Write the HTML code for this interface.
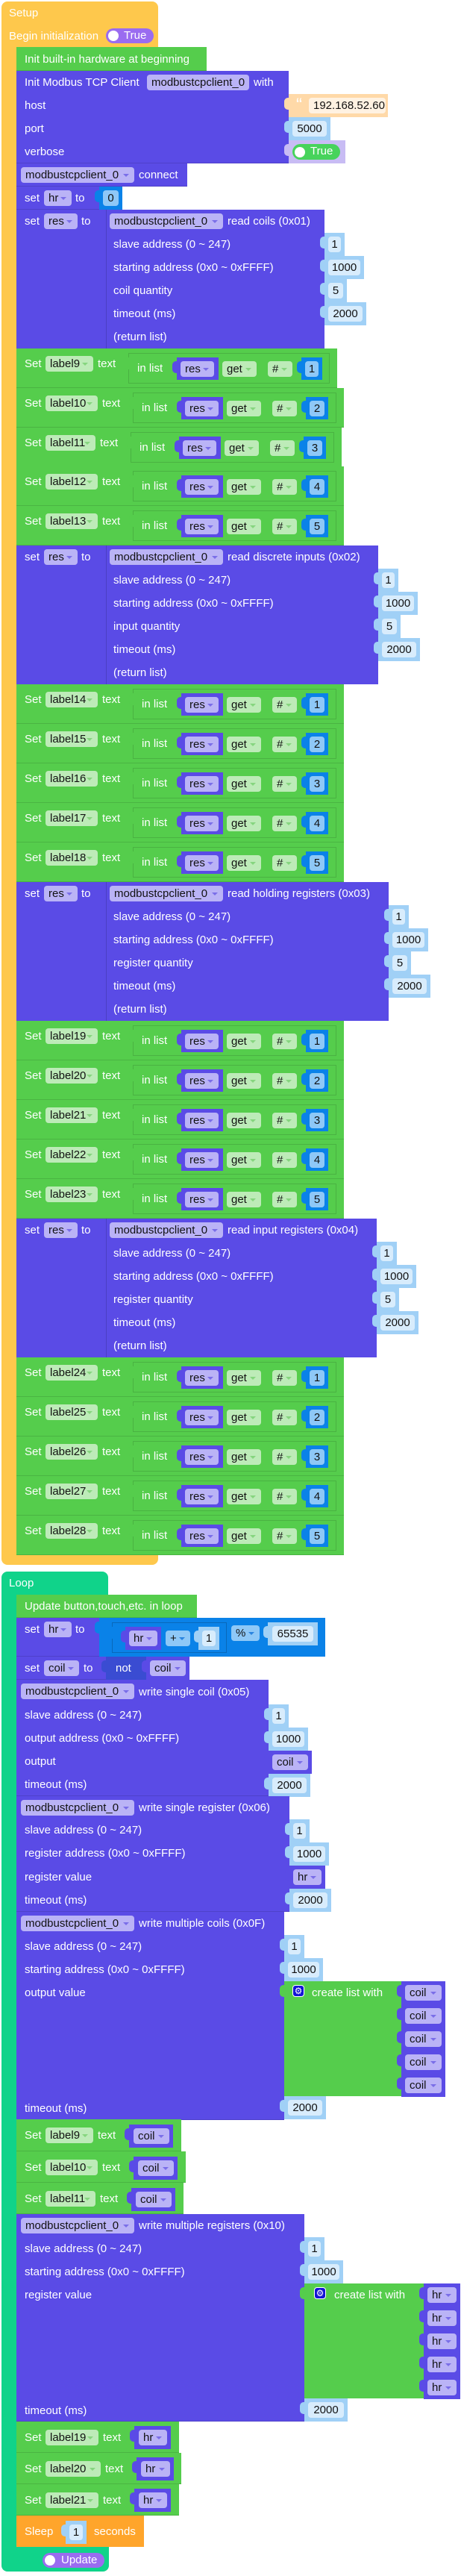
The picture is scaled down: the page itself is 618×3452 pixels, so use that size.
<!DOCTYPE html>
<html><head><meta charset="utf-8"><style>
*{margin:0;padding:0}
html,body{width:618px;height:3452px;background:#fff;overflow:hidden}
body{position:relative;font-family:"Liberation Sans",Arial,sans-serif}
.a{position:absolute;box-sizing:border-box}
.t{position:absolute;color:#fff;font-size:15px;line-height:20px;white-space:nowrap}
.f{position:absolute;box-sizing:border-box;height:21px;border-radius:4px;font-size:15px;line-height:21px;color:#111;padding-left:6px;white-space:nowrap}
.f i{position:absolute;right:7px;top:9px;width:0;height:0;border-left:4px solid transparent;border-right:4px solid transparent;border-top:4px solid #7a6ee8}
.c{padding-left:0;text-align:center}
.P{background:#5A4BE6}
.G{background:#55CD4C}
.Y{background:#FEC84C}
.T{background:#10D38A}
.O{background:#FFA52B}
.vb{background:#A0D0F6}
.db{background:#0A82E8}
.L{background:#BAB3F6}
.Lg{background:#BDEBB8}
.Lg i{border-top-color:#86d57f}
.Fb{background:#D8ECFC}
.Fd{background:#8EC8F7}
.Fd i{border-top-color:#2a84e0}
.v::before{content:"";position:absolute;left:-6px;top:5px;width:7px;height:16px;background:inherit;border-radius:5px 0 0 5px}
.vx{height:31px}
.vx .f{left:5px;right:5px;top:5px}
.sb{box-shadow:inset 0 -1px 0 rgba(0,0,0,.12)}
.in{border-left:1px solid rgba(0,0,0,.15)}
.lb{left:22px;height:53px;width:439px}
.lS{left:11px;top:11px}
.lF{left:39px;top:10px;width:70px}
.lT{left:115px;top:11px}
.lI{left:156px;top:6px;width:273px;height:41px;border:1px solid rgba(0,0,0,.13)}
.iT{left:11px;top:10px}
.iR{left:64px;top:5px;width:56px;height:30px}
.rf{left:5px;top:5px;width:45px}
.iG{left:125px;top:10px;width:46px}
.iH{left:186px;top:10px;width:33px}
.iN{left:231px;top:5px;width:30px;height:30px}
.nf{left:5px;top:5px;width:20px}
.gear{width:16px;height:16px;border-radius:4px;background:#1414D6;border:1px solid #fff;color:#fff;font-family:"DejaVu Sans",sans-serif;font-size:12px;line-height:14px;text-align:center}
</style></head><body>

<!-- ================= SETUP ================= -->
<div class="a Y" style="left:2px;top:2px;width:210px;height:62px;border-radius:8px 8px 0 0"></div>
<div class="a Y" style="left:2px;top:63px;width:20px;height:2025px"></div>
<div class="a Y" style="left:2px;top:2084px;width:210px;height:13px;border-radius:0 0 8px 8px"></div>
<div class="t" style="left:12px;top:8px">Setup</div>
<div class="t" style="left:12px;top:39px">Begin initialization</div>
<div class="a" style="left:142px;top:38px;width:64px;height:20px;border-radius:10px;background:#9A6CF0"></div>
<div class="a" style="left:145px;top:41px;width:14px;height:14px;border-radius:7px;background:#fff"></div>
<div class="t" style="left:166px;top:38px">True</div>

<div class="a G sb" style="left:22px;top:63px;width:255px;height:32px"></div>
<div class="t" style="left:33px;top:70px">Init built-in hardware at beginning</div>

<div class="a P sb" style="left:22px;top:95px;width:365px;height:124px"></div>
<div class="t" style="left:33px;top:101px">Init Modbus TCP Client</div>
<div class="f L" style="left:197px;top:100px;width:137px">modbustcpclient_0</div>
<div class="t" style="left:340px;top:101px">with</div>
<div class="t" style="left:33px;top:132px">host</div>
<div class="t" style="left:33px;top:163px">port</div>
<div class="t" style="left:33px;top:194px">verbose</div>
<div class="a v" style="left:387px;top:126px;width:133px;height:31px;background:#FFD9A8"><div class="t" style="left:10px;top:2px;font-size:24px;line-height:26px">“</div><div class="f" style="left:27px;top:5px;width:103px;background:#FFF2E2">192.168.52.60</div></div>
<div class="a vb v vx" style="left:387px;top:157px;width:56px"><div class="f Fb c">5000</div></div>
<div class="a v" style="left:387px;top:188px;width:76px;height:31px;background:#C8BCF4"><div class="a" style="left:5px;top:5px;width:64px;height:21px;border-radius:11px;background:#47D35B"></div><div class="a" style="left:8px;top:9px;width:14px;height:14px;border-radius:7px;background:#fff"></div><div class="t" style="left:29px;top:5px">True</div></div>

<div class="a P sb" style="left:22px;top:219px;width:229px;height:31px"></div>
<div class="f L" style="left:28px;top:224px;width:152px">modbustcpclient_0<i></i></div>
<div class="t" style="left:186px;top:225px">connect</div>

<div class="a P sb" style="left:22px;top:250px;width:112px;height:31px"></div>
<div class="t" style="left:33px;top:256px">set</div>
<div class="f L" style="left:59px;top:255px;width:37px">hr<i></i></div>
<div class="t" style="left:101px;top:256px">to</div>
<div class="a db v vx" style="left:133px;top:250px;width:31px"><div class="f Fd c">0</div></div>

<!-- read coils -->
<div class="a P" style="left:22px;top:281px;width:121px;height:186px"></div>
<div class="t" style="left:33px;top:287px">set</div>
<div class="f L" style="left:59px;top:286px;width:45px">res<i></i></div>
<div class="t" style="left:109px;top:287px">to</div>
<div class="a P in" style="left:142px;top:281px;width:293px;height:186px"></div>
<div class="f L" style="left:147px;top:286px;width:152px">modbustcpclient_0<i></i></div>
<div class="t" style="left:305px;top:287px">read coils (0x01)</div>
<div class="t" style="left:152px;top:318px">slave address (0 ~ 247)</div>
<div class="t" style="left:152px;top:349px">starting address (0x0 ~ 0xFFFF)</div>
<div class="t" style="left:152px;top:380px">coil quantity</div>
<div class="t" style="left:152px;top:411px">timeout (ms)</div>
<div class="t" style="left:152px;top:442px">(return list)</div>
<div class="a vb v vx" style="left:435px;top:312px;width:27px"><div class="f Fb c">1</div></div>
<div class="a vb v vx" style="left:435px;top:343px;width:53px"><div class="f Fb c">1000</div></div>
<div class="a vb v vx" style="left:435px;top:374px;width:30px"><div class="f Fb c">5</div></div>
<div class="a vb v vx" style="left:435px;top:405px;width:56px"><div class="f Fb c">2000</div></div>

<!-- labels 9-13 -->
<div class="a G sb lb" style="top:467px;width:430px"><div class="t lS">Set</div><div class="f Lg lF" style="width:64px">label9<i></i></div><div class="t lT" style="left:109px">text</div><div class="a G v lI" style="left:150px;width:270px"><div class="t iT">in list</div><div class="a P v iR"><div class="f L rf">res<i></i></div></div><div class="f Lg iG">get<i></i></div><div class="f Lg iH">#<i></i></div><div class="a db v iN" style="width:28px"><div class="f Fd c nf" style="width:18px">1</div></div></div></div>
<div class="a G sb lb" style="top:520px"><div class="t lS">Set</div><div class="f Lg lF">label10<i></i></div><div class="t lT">text</div><div class="a G v lI"><div class="t iT">in list</div><div class="a P v iR"><div class="f L rf">res<i></i></div></div><div class="f Lg iG">get<i></i></div><div class="f Lg iH">#<i></i></div><div class="a db v iN"><div class="f Fd c nf">2</div></div></div></div>
<div class="a G sb lb" style="top:573px;width:436px"><div class="t lS">Set</div><div class="f Lg lF" style="width:67px">label11<i></i></div><div class="t lT" style="left:112px">text</div><div class="a G v lI" style="left:153px"><div class="t iT">in list</div><div class="a P v iR"><div class="f L rf">res<i></i></div></div><div class="f Lg iG">get<i></i></div><div class="f Lg iH">#<i></i></div><div class="a db v iN"><div class="f Fd c nf">3</div></div></div></div>
<div class="a G sb lb" style="top:625px"><div class="t lS">Set</div><div class="f Lg lF">label12<i></i></div><div class="t lT">text</div><div class="a G v lI"><div class="t iT">in list</div><div class="a P v iR"><div class="f L rf">res<i></i></div></div><div class="f Lg iG">get<i></i></div><div class="f Lg iH">#<i></i></div><div class="a db v iN"><div class="f Fd c nf">4</div></div></div></div>
<div class="a G sb lb" style="top:678px"><div class="t lS">Set</div><div class="f Lg lF">label13<i></i></div><div class="t lT">text</div><div class="a G v lI"><div class="t iT">in list</div><div class="a P v iR"><div class="f L rf">res<i></i></div></div><div class="f Lg iG">get<i></i></div><div class="f Lg iH">#<i></i></div><div class="a db v iN"><div class="f Fd c nf">5</div></div></div></div>

<!-- read discrete inputs -->
<div class="a P" style="left:22px;top:731px;width:121px;height:186px"></div>
<div class="t" style="left:33px;top:737px">set</div>
<div class="f L" style="left:59px;top:736px;width:45px">res<i></i></div>
<div class="t" style="left:109px;top:737px">to</div>
<div class="a P in" style="left:142px;top:731px;width:365px;height:186px"></div>
<div class="f L" style="left:147px;top:736px;width:152px">modbustcpclient_0<i></i></div>
<div class="t" style="left:305px;top:737px">read discrete inputs (0x02)</div>
<div class="t" style="left:152px;top:768px">slave address (0 ~ 247)</div>
<div class="t" style="left:152px;top:799px">starting address (0x0 ~ 0xFFFF)</div>
<div class="t" style="left:152px;top:830px">input quantity</div>
<div class="t" style="left:152px;top:861px">timeout (ms)</div>
<div class="t" style="left:152px;top:892px">(return list)</div>
<div class="a vb v vx" style="left:507px;top:762px;width:27px"><div class="f Fb c">1</div></div>
<div class="a vb v vx" style="left:507px;top:793px;width:53px"><div class="f Fb c">1000</div></div>
<div class="a vb v vx" style="left:507px;top:824px;width:30px"><div class="f Fb c">5</div></div>
<div class="a vb v vx" style="left:507px;top:855px;width:56px"><div class="f Fb c">2000</div></div>

<!-- labels 14-18 -->
<div class="a G sb lb" style="top:917px"><div class="t lS">Set</div><div class="f Lg lF">label14<i></i></div><div class="t lT">text</div><div class="a G v lI"><div class="t iT">in list</div><div class="a P v iR"><div class="f L rf">res<i></i></div></div><div class="f Lg iG">get<i></i></div><div class="f Lg iH">#<i></i></div><div class="a db v iN"><div class="f Fd c nf">1</div></div></div></div>
<div class="a G sb lb" style="top:970px"><div class="t lS">Set</div><div class="f Lg lF">label15<i></i></div><div class="t lT">text</div><div class="a G v lI"><div class="t iT">in list</div><div class="a P v iR"><div class="f L rf">res<i></i></div></div><div class="f Lg iG">get<i></i></div><div class="f Lg iH">#<i></i></div><div class="a db v iN"><div class="f Fd c nf">2</div></div></div></div>
<div class="a G sb lb" style="top:1023px"><div class="t lS">Set</div><div class="f Lg lF">label16<i></i></div><div class="t lT">text</div><div class="a G v lI"><div class="t iT">in list</div><div class="a P v iR"><div class="f L rf">res<i></i></div></div><div class="f Lg iG">get<i></i></div><div class="f Lg iH">#<i></i></div><div class="a db v iN"><div class="f Fd c nf">3</div></div></div></div>
<div class="a G sb lb" style="top:1076px"><div class="t lS">Set</div><div class="f Lg lF">label17<i></i></div><div class="t lT">text</div><div class="a G v lI"><div class="t iT">in list</div><div class="a P v iR"><div class="f L rf">res<i></i></div></div><div class="f Lg iG">get<i></i></div><div class="f Lg iH">#<i></i></div><div class="a db v iN"><div class="f Fd c nf">4</div></div></div></div>
<div class="a G sb lb" style="top:1129px"><div class="t lS">Set</div><div class="f Lg lF">label18<i></i></div><div class="t lT">text</div><div class="a G v lI"><div class="t iT">in list</div><div class="a P v iR"><div class="f L rf">res<i></i></div></div><div class="f Lg iG">get<i></i></div><div class="f Lg iH">#<i></i></div><div class="a db v iN"><div class="f Fd c nf">5</div></div></div></div>

<!-- read holding registers -->
<div class="a P" style="left:22px;top:1182px;width:121px;height:186px"></div>
<div class="t" style="left:33px;top:1188px">set</div>
<div class="f L" style="left:59px;top:1187px;width:45px">res<i></i></div>
<div class="t" style="left:109px;top:1188px">to</div>
<div class="a P in" style="left:142px;top:1182px;width:379px;height:186px"></div>
<div class="f L" style="left:147px;top:1187px;width:152px">modbustcpclient_0<i></i></div>
<div class="t" style="left:305px;top:1188px">read holding registers (0x03)</div>
<div class="t" style="left:152px;top:1219px">slave address (0 ~ 247)</div>
<div class="t" style="left:152px;top:1250px">starting address (0x0 ~ 0xFFFF)</div>
<div class="t" style="left:152px;top:1281px">register quantity</div>
<div class="t" style="left:152px;top:1312px">timeout (ms)</div>
<div class="t" style="left:152px;top:1343px">(return list)</div>
<div class="a vb v vx" style="left:521px;top:1213px;width:27px"><div class="f Fb c">1</div></div>
<div class="a vb v vx" style="left:521px;top:1244px;width:53px"><div class="f Fb c">1000</div></div>
<div class="a vb v vx" style="left:521px;top:1275px;width:30px"><div class="f Fb c">5</div></div>
<div class="a vb v vx" style="left:521px;top:1306px;width:56px"><div class="f Fb c">2000</div></div>

<!-- labels 19-23 -->
<div class="a G sb lb" style="top:1368px"><div class="t lS">Set</div><div class="f Lg lF">label19<i></i></div><div class="t lT">text</div><div class="a G v lI"><div class="t iT">in list</div><div class="a P v iR"><div class="f L rf">res<i></i></div></div><div class="f Lg iG">get<i></i></div><div class="f Lg iH">#<i></i></div><div class="a db v iN"><div class="f Fd c nf">1</div></div></div></div>
<div class="a G sb lb" style="top:1421px"><div class="t lS">Set</div><div class="f Lg lF">label20<i></i></div><div class="t lT">text</div><div class="a G v lI"><div class="t iT">in list</div><div class="a P v iR"><div class="f L rf">res<i></i></div></div><div class="f Lg iG">get<i></i></div><div class="f Lg iH">#<i></i></div><div class="a db v iN"><div class="f Fd c nf">2</div></div></div></div>
<div class="a G sb lb" style="top:1474px"><div class="t lS">Set</div><div class="f Lg lF">label21<i></i></div><div class="t lT">text</div><div class="a G v lI"><div class="t iT">in list</div><div class="a P v iR"><div class="f L rf">res<i></i></div></div><div class="f Lg iG">get<i></i></div><div class="f Lg iH">#<i></i></div><div class="a db v iN"><div class="f Fd c nf">3</div></div></div></div>
<div class="a G sb lb" style="top:1527px"><div class="t lS">Set</div><div class="f Lg lF">label22<i></i></div><div class="t lT">text</div><div class="a G v lI"><div class="t iT">in list</div><div class="a P v iR"><div class="f L rf">res<i></i></div></div><div class="f Lg iG">get<i></i></div><div class="f Lg iH">#<i></i></div><div class="a db v iN"><div class="f Fd c nf">4</div></div></div></div>
<div class="a G sb lb" style="top:1580px"><div class="t lS">Set</div><div class="f Lg lF">label23<i></i></div><div class="t lT">text</div><div class="a G v lI"><div class="t iT">in list</div><div class="a P v iR"><div class="f L rf">res<i></i></div></div><div class="f Lg iG">get<i></i></div><div class="f Lg iH">#<i></i></div><div class="a db v iN"><div class="f Fd c nf">5</div></div></div></div>

<!-- read input registers -->
<div class="a P" style="left:22px;top:1633px;width:121px;height:186px"></div>
<div class="t" style="left:33px;top:1639px">set</div>
<div class="f L" style="left:59px;top:1638px;width:45px">res<i></i></div>
<div class="t" style="left:109px;top:1639px">to</div>
<div class="a P in" style="left:142px;top:1633px;width:363px;height:186px"></div>
<div class="f L" style="left:147px;top:1638px;width:152px">modbustcpclient_0<i></i></div>
<div class="t" style="left:305px;top:1639px">read input registers (0x04)</div>
<div class="t" style="left:152px;top:1670px">slave address (0 ~ 247)</div>
<div class="t" style="left:152px;top:1701px">starting address (0x0 ~ 0xFFFF)</div>
<div class="t" style="left:152px;top:1732px">register quantity</div>
<div class="t" style="left:152px;top:1763px">timeout (ms)</div>
<div class="t" style="left:152px;top:1794px">(return list)</div>
<div class="a vb v vx" style="left:505px;top:1664px;width:27px"><div class="f Fb c">1</div></div>
<div class="a vb v vx" style="left:505px;top:1695px;width:53px"><div class="f Fb c">1000</div></div>
<div class="a vb v vx" style="left:505px;top:1726px;width:30px"><div class="f Fb c">5</div></div>
<div class="a vb v vx" style="left:505px;top:1757px;width:56px"><div class="f Fb c">2000</div></div>

<!-- labels 24-28 -->
<div class="a G sb lb" style="top:1819px"><div class="t lS">Set</div><div class="f Lg lF">label24<i></i></div><div class="t lT">text</div><div class="a G v lI"><div class="t iT">in list</div><div class="a P v iR"><div class="f L rf">res<i></i></div></div><div class="f Lg iG">get<i></i></div><div class="f Lg iH">#<i></i></div><div class="a db v iN"><div class="f Fd c nf">1</div></div></div></div>
<div class="a G sb lb" style="top:1872px"><div class="t lS">Set</div><div class="f Lg lF">label25<i></i></div><div class="t lT">text</div><div class="a G v lI"><div class="t iT">in list</div><div class="a P v iR"><div class="f L rf">res<i></i></div></div><div class="f Lg iG">get<i></i></div><div class="f Lg iH">#<i></i></div><div class="a db v iN"><div class="f Fd c nf">2</div></div></div></div>
<div class="a G sb lb" style="top:1925px"><div class="t lS">Set</div><div class="f Lg lF">label26<i></i></div><div class="t lT">text</div><div class="a G v lI"><div class="t iT">in list</div><div class="a P v iR"><div class="f L rf">res<i></i></div></div><div class="f Lg iG">get<i></i></div><div class="f Lg iH">#<i></i></div><div class="a db v iN"><div class="f Fd c nf">3</div></div></div></div>
<div class="a G sb lb" style="top:1978px"><div class="t lS">Set</div><div class="f Lg lF">label27<i></i></div><div class="t lT">text</div><div class="a G v lI"><div class="t iT">in list</div><div class="a P v iR"><div class="f L rf">res<i></i></div></div><div class="f Lg iG">get<i></i></div><div class="f Lg iH">#<i></i></div><div class="a db v iN"><div class="f Fd c nf">4</div></div></div></div>
<div class="a G sb lb" style="top:2031px"><div class="t lS">Set</div><div class="f Lg lF">label28<i></i></div><div class="t lT">text</div><div class="a G v lI"><div class="t iT">in list</div><div class="a P v iR"><div class="f L rf">res<i></i></div></div><div class="f Lg iG">get<i></i></div><div class="f Lg iH">#<i></i></div><div class="a db v iN"><div class="f Fd c nf">5</div></div></div></div>

<!-- ================= LOOP ================= -->
<div class="a T" style="left:2px;top:2106px;width:143px;height:32px;border-radius:8px 8px 0 0"></div>
<div class="a T" style="left:2px;top:2137px;width:20px;height:1280px"></div>
<div class="a T" style="left:2px;top:3413px;width:144px;height:33px;border-radius:0 0 8px 8px"></div>
<div class="t" style="left:12px;top:2112px">Loop</div>
<div class="a" style="left:57px;top:3421px;width:83px;height:20px;border-radius:10px;background:#9A6CF0"></div>
<div class="a" style="left:60px;top:3424px;width:14px;height:14px;border-radius:7px;background:#fff"></div>
<div class="t" style="left:82px;top:3421px">Update</div>

<div class="a G sb" style="left:22px;top:2137px;width:242px;height:31px"></div>
<div class="t" style="left:33px;top:2143px">Update button,touch,etc. in loop</div>

<!-- set hr to (hr + 1) % 65535 -->
<div class="a P sb" style="left:22px;top:2168px;width:112px;height:52px"></div>
<div class="t" style="left:33px;top:2174px">set</div>
<div class="f L" style="left:59px;top:2173px;width:37px">hr<i></i></div>
<div class="t" style="left:101px;top:2174px">to</div>
<div class="a db v" style="left:133px;top:2168px;width:303px;height:52px"></div>
<div class="a db v" style="left:150px;top:2174px;width:154px;height:41px;border:1px solid rgba(0,0,0,.2)"></div>
<div class="a P v vx" style="left:168px;top:2180px;width:48px"><div class="f L">hr<i></i></div></div>
<div class="f Fd" style="left:222px;top:2185px;width:33px">+<i></i></div>
<div class="a vb v vx" style="left:266px;top:2180px;width:28px"><div class="f Fb c">1</div></div>
<div class="f Fd" style="left:310px;top:2178px;width:38px">%<i></i></div>
<div class="a vb v vx" style="left:359px;top:2174px;width:67px"><div class="f Fb c" style="left:6px;right:6px">65535</div></div>

<!-- set coil to not coil -->
<div class="a P sb" style="left:22px;top:2220px;width:122px;height:31px"></div>
<div class="t" style="left:33px;top:2226px">set</div>
<div class="f L" style="left:59px;top:2225px;width:47px">coil<i></i></div>
<div class="t" style="left:112px;top:2226px">to</div>
<div class="a v" style="left:142px;top:2220px;width:55px;height:31px;background:#3A4CD2"></div>
<div class="t" style="left:155px;top:2226px">not</div>
<div class="a P v vx" style="left:196px;top:2220px;width:58px"><div class="f L">coil<i></i></div></div>

<!-- write single coil -->
<div class="a P sb" style="left:22px;top:2251px;width:338px;height:156px"></div>
<div class="f L" style="left:28px;top:2256px;width:152px">modbustcpclient_0<i></i></div>
<div class="t" style="left:186px;top:2258px">write single coil (0x05)</div>
<div class="t" style="left:33px;top:2289px">slave address (0 ~ 247)</div>
<div class="t" style="left:33px;top:2320px">output address (0x0 ~ 0xFFFF)</div>
<div class="t" style="left:33px;top:2351px">output</div>
<div class="t" style="left:33px;top:2382px">timeout (ms)</div>
<div class="a vb v vx" style="left:360px;top:2284px;width:27px"><div class="f Fb c">1</div></div>
<div class="a vb v vx" style="left:360px;top:2315px;width:53px"><div class="f Fb c">1000</div></div>
<div class="a P v vx" style="left:360px;top:2346px;width:58px"><div class="f L">coil<i></i></div></div>
<div class="a vb v vx" style="left:360px;top:2377px;width:56px"><div class="f Fb c">2000</div></div>

<!-- write single register -->
<div class="a P sb" style="left:22px;top:2407px;width:366px;height:155px"></div>
<div class="f L" style="left:28px;top:2412px;width:152px">modbustcpclient_0<i></i></div>
<div class="t" style="left:186px;top:2413px">write single register (0x06)</div>
<div class="t" style="left:33px;top:2443px">slave address (0 ~ 247)</div>
<div class="t" style="left:33px;top:2474px">register address (0x0 ~ 0xFFFF)</div>
<div class="t" style="left:33px;top:2506px">register value</div>
<div class="t" style="left:33px;top:2537px">timeout (ms)</div>
<div class="a vb v vx" style="left:388px;top:2438px;width:27px"><div class="f Fb c">1</div></div>
<div class="a vb v vx" style="left:388px;top:2469px;width:53px"><div class="f Fb c">1000</div></div>
<div class="a P v vx" style="left:388px;top:2500px;width:48px"><div class="f L">hr<i></i></div></div>
<div class="a vb v vx" style="left:388px;top:2531px;width:56px"><div class="f Fb c">2000</div></div>

<!-- write multiple coils -->
<div class="a P sb" style="left:22px;top:2562px;width:359px;height:279px"></div>
<div class="f L" style="left:28px;top:2567px;width:152px">modbustcpclient_0<i></i></div>
<div class="t" style="left:186px;top:2568px">write multiple coils (0x0F)</div>
<div class="t" style="left:33px;top:2599px">slave address (0 ~ 247)</div>
<div class="t" style="left:33px;top:2630px">starting address (0x0 ~ 0xFFFF)</div>
<div class="t" style="left:33px;top:2661px">output value</div>
<div class="t" style="left:33px;top:2816px">timeout (ms)</div>
<div class="a vb v vx" style="left:381px;top:2593px;width:27px"><div class="f Fb c">1</div></div>
<div class="a vb v vx" style="left:381px;top:2624px;width:52px"><div class="f Fb c">1000</div></div>
<div class="a G v" style="left:381px;top:2655px;width:157px;height:154px"><div class="a gear" style="left:11px;top:5px">⚙</div><div class="t" style="left:37px;top:6px">create list with</div></div>
<div class="a P v vx" style="left:538px;top:2655px;width:59px"><div class="f L">coil<i></i></div></div>
<div class="a P v vx" style="left:538px;top:2686px;width:59px"><div class="f L">coil<i></i></div></div>
<div class="a P v vx" style="left:538px;top:2717px;width:59px"><div class="f L">coil<i></i></div></div>
<div class="a P v vx" style="left:538px;top:2748px;width:59px"><div class="f L">coil<i></i></div></div>
<div class="a P v vx" style="left:538px;top:2779px;width:59px"><div class="f L">coil<i></i></div></div>
<div class="a vb v vx" style="left:381px;top:2809px;width:56px"><div class="f Fb c">2000</div></div>

<!-- set label9/10/11 text coil -->
<div class="a G sb" style="left:22px;top:2840px;width:221px;height:43px"><div class="t" style="left:11px;top:12px">Set</div><div class="f Lg" style="left:39px;top:11px;width:64px">label9<i></i></div><div class="t" style="left:109px;top:12px">text</div><div class="a P v vx" style="left:151px;top:7px;width:59px"><div class="f L" style="left:6px">coil<i></i></div></div></div>
<div class="a G sb" style="left:22px;top:2883px;width:227px;height:42px"><div class="t" style="left:11px;top:12px">Set</div><div class="f Lg" style="left:39px;top:11px;width:70px">label10<i></i></div><div class="t" style="left:115px;top:12px">text</div><div class="a P v vx" style="left:157px;top:7px;width:59px"><div class="f L" style="left:6px">coil<i></i></div></div></div>
<div class="a G sb" style="left:22px;top:2925px;width:224px;height:42px"><div class="t" style="left:11px;top:12px">Set</div><div class="f Lg" style="left:39px;top:11px;width:67px">label11<i></i></div><div class="t" style="left:112px;top:12px">text</div><div class="a P v vx" style="left:154px;top:7px;width:59px"><div class="f L" style="left:6px">coil<i></i></div></div></div>

<!-- write multiple registers -->
<div class="a P sb" style="left:22px;top:2967px;width:386px;height:278px"></div>
<div class="f L" style="left:28px;top:2972px;width:152px">modbustcpclient_0<i></i></div>
<div class="t" style="left:186px;top:2973px">write multiple registers (0x10)</div>
<div class="t" style="left:33px;top:3004px">slave address (0 ~ 247)</div>
<div class="t" style="left:33px;top:3035px">starting address (0x0 ~ 0xFFFF)</div>
<div class="t" style="left:33px;top:3066px">register value</div>
<div class="t" style="left:33px;top:3221px">timeout (ms)</div>
<div class="a vb v vx" style="left:408px;top:2998px;width:27px"><div class="f Fb c">1</div></div>
<div class="a vb v vx" style="left:408px;top:3029px;width:52px"><div class="f Fb c">1000</div></div>
<div class="a G v" style="left:408px;top:3060px;width:160px;height:154px"><div class="a gear" style="left:13px;top:5px">⚙</div><div class="t" style="left:40px;top:6px">create list with</div></div>
<div class="a P v vx" style="left:568px;top:3060px;width:49px"><div class="f L">hr<i></i></div></div>
<div class="a P v vx" style="left:568px;top:3091px;width:49px"><div class="f L">hr<i></i></div></div>
<div class="a P v vx" style="left:568px;top:3122px;width:49px"><div class="f L">hr<i></i></div></div>
<div class="a P v vx" style="left:568px;top:3153px;width:49px"><div class="f L">hr<i></i></div></div>
<div class="a P v vx" style="left:568px;top:3184px;width:49px"><div class="f L">hr<i></i></div></div>
<div class="a vb v vx" style="left:408px;top:3214px;width:58px"><div class="f Fb c">2000</div></div>

<!-- set label19/20/21 text hr -->
<div class="a G sb" style="left:22px;top:3245px;width:218px;height:42px"><div class="t" style="left:11px;top:12px">Set</div><div class="f Lg" style="left:39px;top:11px;width:71px">label19<i></i></div><div class="t" style="left:116px;top:12px">text</div><div class="a P v vx" style="left:158px;top:6px;width:49px"><div class="f L" style="left:6px">hr<i></i></div></div></div>
<div class="a G sb" style="left:22px;top:3287px;width:221px;height:42px"><div class="t" style="left:11px;top:12px">Set</div><div class="f Lg" style="left:39px;top:11px;width:74px">label20<i></i></div><div class="t" style="left:119px;top:12px">text</div><div class="a P v vx" style="left:161px;top:6px;width:50px"><div class="f L" style="left:6px">hr<i></i></div></div></div>
<div class="a G sb" style="left:22px;top:3329px;width:218px;height:42px"><div class="t" style="left:11px;top:12px">Set</div><div class="f Lg" style="left:39px;top:11px;width:71px">label21<i></i></div><div class="t" style="left:116px;top:12px">text</div><div class="a P v vx" style="left:158px;top:6px;width:49px"><div class="f L" style="left:6px">hr<i></i></div></div></div>

<!-- sleep -->
<div class="a O" style="left:22px;top:3371px;width:171px;height:42px"><div class="t" style="left:11px;top:12px">Sleep</div><div class="a vb v vx" style="left:66px;top:7px;width:28px"><div class="f Fb c">1</div></div><div class="t" style="left:104px;top:12px">seconds</div></div>

</body></html>
